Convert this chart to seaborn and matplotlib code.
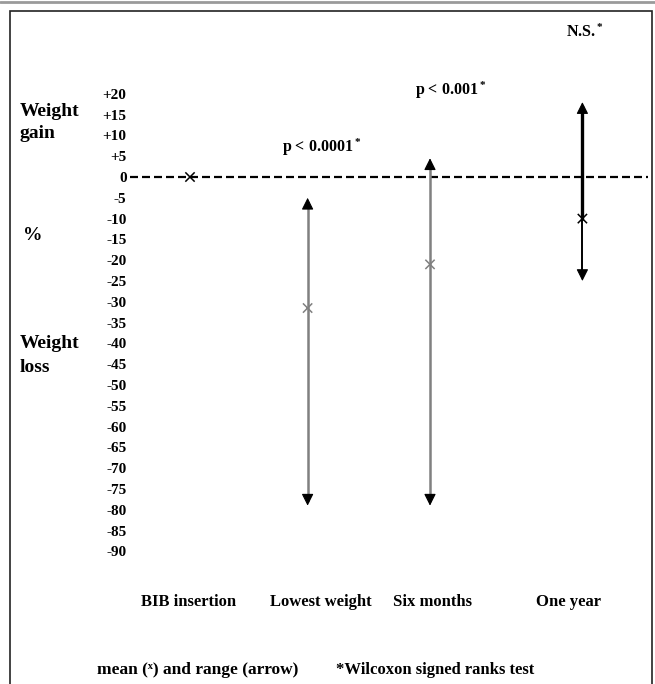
import pandas as pd
import matplotlib.pyplot as plt
import seaborn as sns
from matplotlib.patches import Rectangle
from matplotlib.lines import Line2D

# data (% weight change)
categories = ['BIB insertion', 'Lowest weight', 'Six months', 'One year']
x_pos = [1.0, 1.98, 3.0, 4.27]          # where each mean/range is drawn
label_pos = [0.99, 2.09, 3.02, 4.15]     # where each category label sits
mean_vals = [0, -31.5, -21, -10]
min_vals = [None, -79, -79, -25]
max_vals = [None, -5, 4.5, 18]
mark_colors = ['black', '#808080', '#808080', 'black']

tick_vals = [20, 15, 10, 5, 0, -5, -10, -15, -20, -25, -30, -35, -40, -45,
             -50, -55, -60, -65, -70, -75, -80, -85, -90]
tick_labels = ['+%d' % v if v > 0 else '%d' % v for v in tick_vals]

stats_text = ['p < 0.0001$^*$', 'p < 0.001$^*$', 'N.S.$^*$']
stats_x = [2.1, 3.17, 4.29]
stats_y = [7.2, 20.8, 34.7]

df = pd.DataFrame({'cat': categories, 'x': x_pos, 'mean': mean_vals})

sns.set_theme(style="white")
plt.rcParams['font.family'] = ['Liberation Serif', 'DejaVu Serif']
plt.rcParams['font.weight'] = 'bold'
plt.rcParams['text.color'] = 'black'
plt.rcParams['ytick.color'] = 'black'
plt.rcParams['ytick.labelcolor'] = 'black'
plt.rcParams['mathtext.fontset'] = 'custom'
plt.rcParams['mathtext.rm'] = 'Liberation Serif:bold'
plt.rcParams['mathtext.it'] = 'Liberation Serif:bold'
plt.rcParams['mathtext.bf'] = 'Liberation Serif:bold'

W, H = 655, 684
fig = plt.figure(figsize=(W / 100, H / 100), dpi=100)
ax = fig.add_axes([130 / W, 0, (648 - 130) / W, 1])
ax.set_ylim(-(H - 177) / 4.16, 177 / 4.16)
ax.set_xlim(0.5, 0.5 + (648 - 130) / 120)
for s in ax.spines.values():
    s.set_visible(False)
ax.set_xticks([])
ax.set_yticks(tick_vals)
ax.set_yticklabels(tick_labels, fontsize=11, fontweight='bold', color='black')
ax.tick_params(axis='y', length=0, pad=2.5)

# zero line
ax.axhline(0, color='black', lw=1.6, linestyle=(0, (3.6, 1.8)), zorder=1)

# ranges as double arrows
for i in range(len(categories)):
    if min_vals[i] is None:
        continue
    x = x_pos[i]
    if i == 3:
        ax.plot([x, x], [mean_vals[i], max_vals[i] - 1], color='black', lw=2.4, zorder=2)
        ax.plot([x, x], [min_vals[i] + 1, mean_vals[i]], color='black', lw=1.4, zorder=2)
    else:
        ax.plot([x, x], [min_vals[i] + 1, max_vals[i] - 1], color=mark_colors[i], lw=1.8, zorder=2)
    for tip, back in [(max_vals[i], max_vals[i] - 2.4), (min_vals[i], min_vals[i] + 2.4)]:
        ax.annotate('', xy=(x, tip), xytext=(x, back),
                    arrowprops=dict(arrowstyle='-|>', color='black', lw=0.8,
                                    mutation_scale=18, shrinkA=0, shrinkB=0), zorder=3)

# means
sns.scatterplot(data=df, x='x', y='mean', hue='cat', palette=dict(zip(categories, mark_colors)),
                marker='x', s=45, linewidth=1.1, legend=False, ax=ax, zorder=4)
ax.set_xlabel('')
ax.set_ylabel('')

for xp, lab in zip(label_pos, categories):
    ax.text(xp, -(602 - 177) / 4.16, lab, ha='center', va='center', fontsize=12, fontweight='bold')

for t, xs, ys in zip(stats_text, stats_x, stats_y):
    ax.text(xs, ys, t, ha='center', va='center', fontsize=11.5, fontweight='bold')

# side labels
def ftext(px, py, s, **kw):
    fig.text(px / W, 1 - py / H, s, fontweight='bold', **kw)

ftext(20, 111, 'Weight', fontsize=14, va='center')
ftext(20, 133, 'gain', fontsize=14, va='center')
ftext(23, 235, '%', fontsize=14, va='center')
ftext(20, 343, 'Weight', fontsize=14, va='center')
ftext(20, 367, 'loss', fontsize=14, va='center')
ftext(97, 670, 'mean (\u02e3) and range (arrow)', fontsize=12.5, va='center')
ftext(336, 670, '*Wilcoxon signed ranks test', fontsize=12, va='center')

# frame
fig.add_artist(Rectangle((10 / W, -0.05), (652 - 10) / W, 1.05 - 11 / H,
                         transform=fig.transFigure, fill=False, edgecolor='#222222', lw=1.2))
fig.add_artist(Line2D([0, 1], [1 - 1.5 / H, 1 - 1.5 / H], transform=fig.transFigure,
                      color='#9a9a9a', lw=2))

plt.savefig('out.png', dpi=100)
plt.close()
